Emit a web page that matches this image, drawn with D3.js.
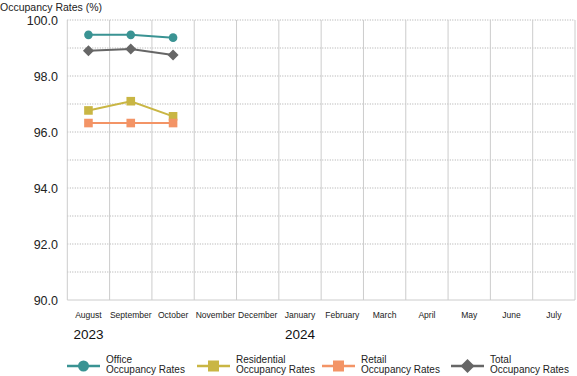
<!DOCTYPE html>
<html><head><meta charset="utf-8">
<script src="https://cdn.jsdelivr.net/npm/d3@7"></script>
<style>body{margin:0;background:#fff}svg{display:block}</style>
</head><body><svg id="c" width="577" height="376"></svg>
<script>
const months = ["August","September","October","November","December","January","February","March","April","May","June","July"];
const years = [{label:"2023", month:"August"},{label:"2024", month:"January"}];
const yTicks = [90,92,94,96,98,100];
const office = [99.47, 99.47, 99.37];
const residential = [96.77, 97.1, 96.56];
const retail = [96.32, 96.32, 96.32];
const total = [98.9, 98.96, 98.75];
const seriesNames = ["Office\nOccupancy Rates","Residential\nOccupancy Rates","Retail\nOccupancy Rates","Total\nOccupancy Rates"];

const series = [
  {name: seriesNames[0], values: office, color: "#3a9393", shape: "circle"},
  {name: seriesNames[1], values: residential, color: "#c9b644", shape: "square"},
  {name: seriesNames[2], values: retail, color: "#f39466", shape: "square"},
  {name: seriesNames[3], values: total, color: "#666666", shape: "diamond"}
];

const svg = d3.select("#c");
const L = 67.3, R = 575, T = 20, B = 300;
const x = d3.scaleBand().domain(months).range([L, R]);
const y = d3.scaleLinear().domain([90, 100]).range([B, T]);

svg.append("g").selectAll("line").data(d3.range(91, 101, 1)).join("line")
  .attr("x1", L).attr("x2", R).attr("y1", d => y(d)).attr("y2", d => y(d))
  .attr("stroke", "#aaa").attr("stroke-width", 1).attr("stroke-dasharray", "1,1.5");
svg.append("g").selectAll("line").data(months).join("line")
  .attr("x1", d => x(d) + x.bandwidth()).attr("x2", d => x(d) + x.bandwidth())
  .attr("y1", T).attr("y2", B).attr("stroke", "#cccccc").attr("stroke-width", 1);
svg.append("line").attr("x1", L).attr("x2", L).attr("y1", T).attr("y2", B).attr("stroke", "#cccccc");
svg.append("line").attr("x1", L).attr("x2", R).attr("y1", B).attr("y2", B).attr("stroke", "#cccccc");

svg.append("g").selectAll("text").data(yTicks).join("text")
  .attr("x", 58).attr("y", d => y(d)).attr("dy", "0.36em").attr("text-anchor", "end")
  .attr("font-family", "Liberation Sans, Arial, sans-serif").attr("font-size", 12.5).attr("fill", "#222")
  .text(d => d.toFixed(1));

svg.append("g").selectAll("text").data(months).join("text")
  .attr("x", d => x(d) + x.bandwidth()/2).attr("y", 318.5).attr("text-anchor", "middle")
  .attr("font-family", "Liberation Sans, Arial, sans-serif")
  .attr("font-size", 9.5).attr("fill", "#222")
  .attr("transform", d => `translate(${(x(d)+x.bandwidth()/2)*0.1},0) scale(0.9,1)`)
  .text(d => d);

svg.append("g").selectAll("text").data(years).join("text")
  .attr("x", d => x(d.month) + x.bandwidth()/2).attr("y", 338.5).attr("text-anchor", "middle")
  .attr("font-family", "Liberation Sans, Arial, sans-serif").attr("font-size", 13.5).attr("fill", "#111")
  .text(d => d.label);

svg.append("text").attr("x", 0).attr("y", 11)
  .attr("font-family", "Liberation Sans, Arial, sans-serif").attr("font-size", 10.5).attr("fill", "#222")
  .text("Occupancy Rates (%)");

function drawMarker(g, shape, color, cx, cy) {
  if (shape === "circle") g.append("circle").attr("cx", cx).attr("cy", cy).attr("r", 4.3).attr("fill", color);
  else if (shape === "square") g.append("rect").attr("x", cx-4.3).attr("y", cy-4.3).attr("width", 8.6).attr("height", 8.6).attr("fill", color);
  else g.append("path").attr("d", `M${cx},${cy-5.5}L${cx+5.5},${cy}L${cx},${cy+5.5}L${cx-5.5},${cy}Z`).attr("fill", color);
}

const line = d3.line().x((d, i) => x(months[i]) + x.bandwidth()/2).y(d => y(d));
series.forEach(s => {
  const g = svg.append("g");
  g.append("path").attr("d", line(s.values)).attr("fill", "none").attr("stroke", s.color).attr("stroke-width", 2);
  s.values.forEach((v, i) => drawMarker(g, s.shape, s.color, x(months[i]) + x.bandwidth()/2, y(v)));
});

const legX = [67, 197, 322, 451];
series.forEach((s, i) => {
  const g = svg.append("g");
  const lx = legX[i], ly = 366;
  g.append("line").attr("x1", lx).attr("x2", lx+33).attr("y1", ly).attr("y2", ly).attr("stroke", s.color).attr("stroke-width", 2.5);
  if (s.shape === "circle") g.append("circle").attr("cx", lx+16.5).attr("cy", ly).attr("r", 5.5).attr("fill", s.color);
  else if (s.shape === "square") g.append("rect").attr("x", lx+11).attr("y", ly-5.5).attr("width", 11).attr("height", 11).attr("fill", s.color);
  else g.append("path").attr("d", `M${lx+16.5},${ly-7}L${lx+23.5},${ly}L${lx+16.5},${ly+7}L${lx+9.5},${ly}Z`).attr("fill", s.color);
  const t = g.append("text").attr("x", lx+39).attr("y", 363)
    .attr("font-family", "Liberation Sans, Arial, sans-serif").attr("font-size", 10).attr("fill", "#222");
  s.name.split("\n").forEach((ln, j) => t.append("tspan").attr("x", lx+39).attr("dy", j ? 10 : 0).text(ln));
});
</script></body></html>
